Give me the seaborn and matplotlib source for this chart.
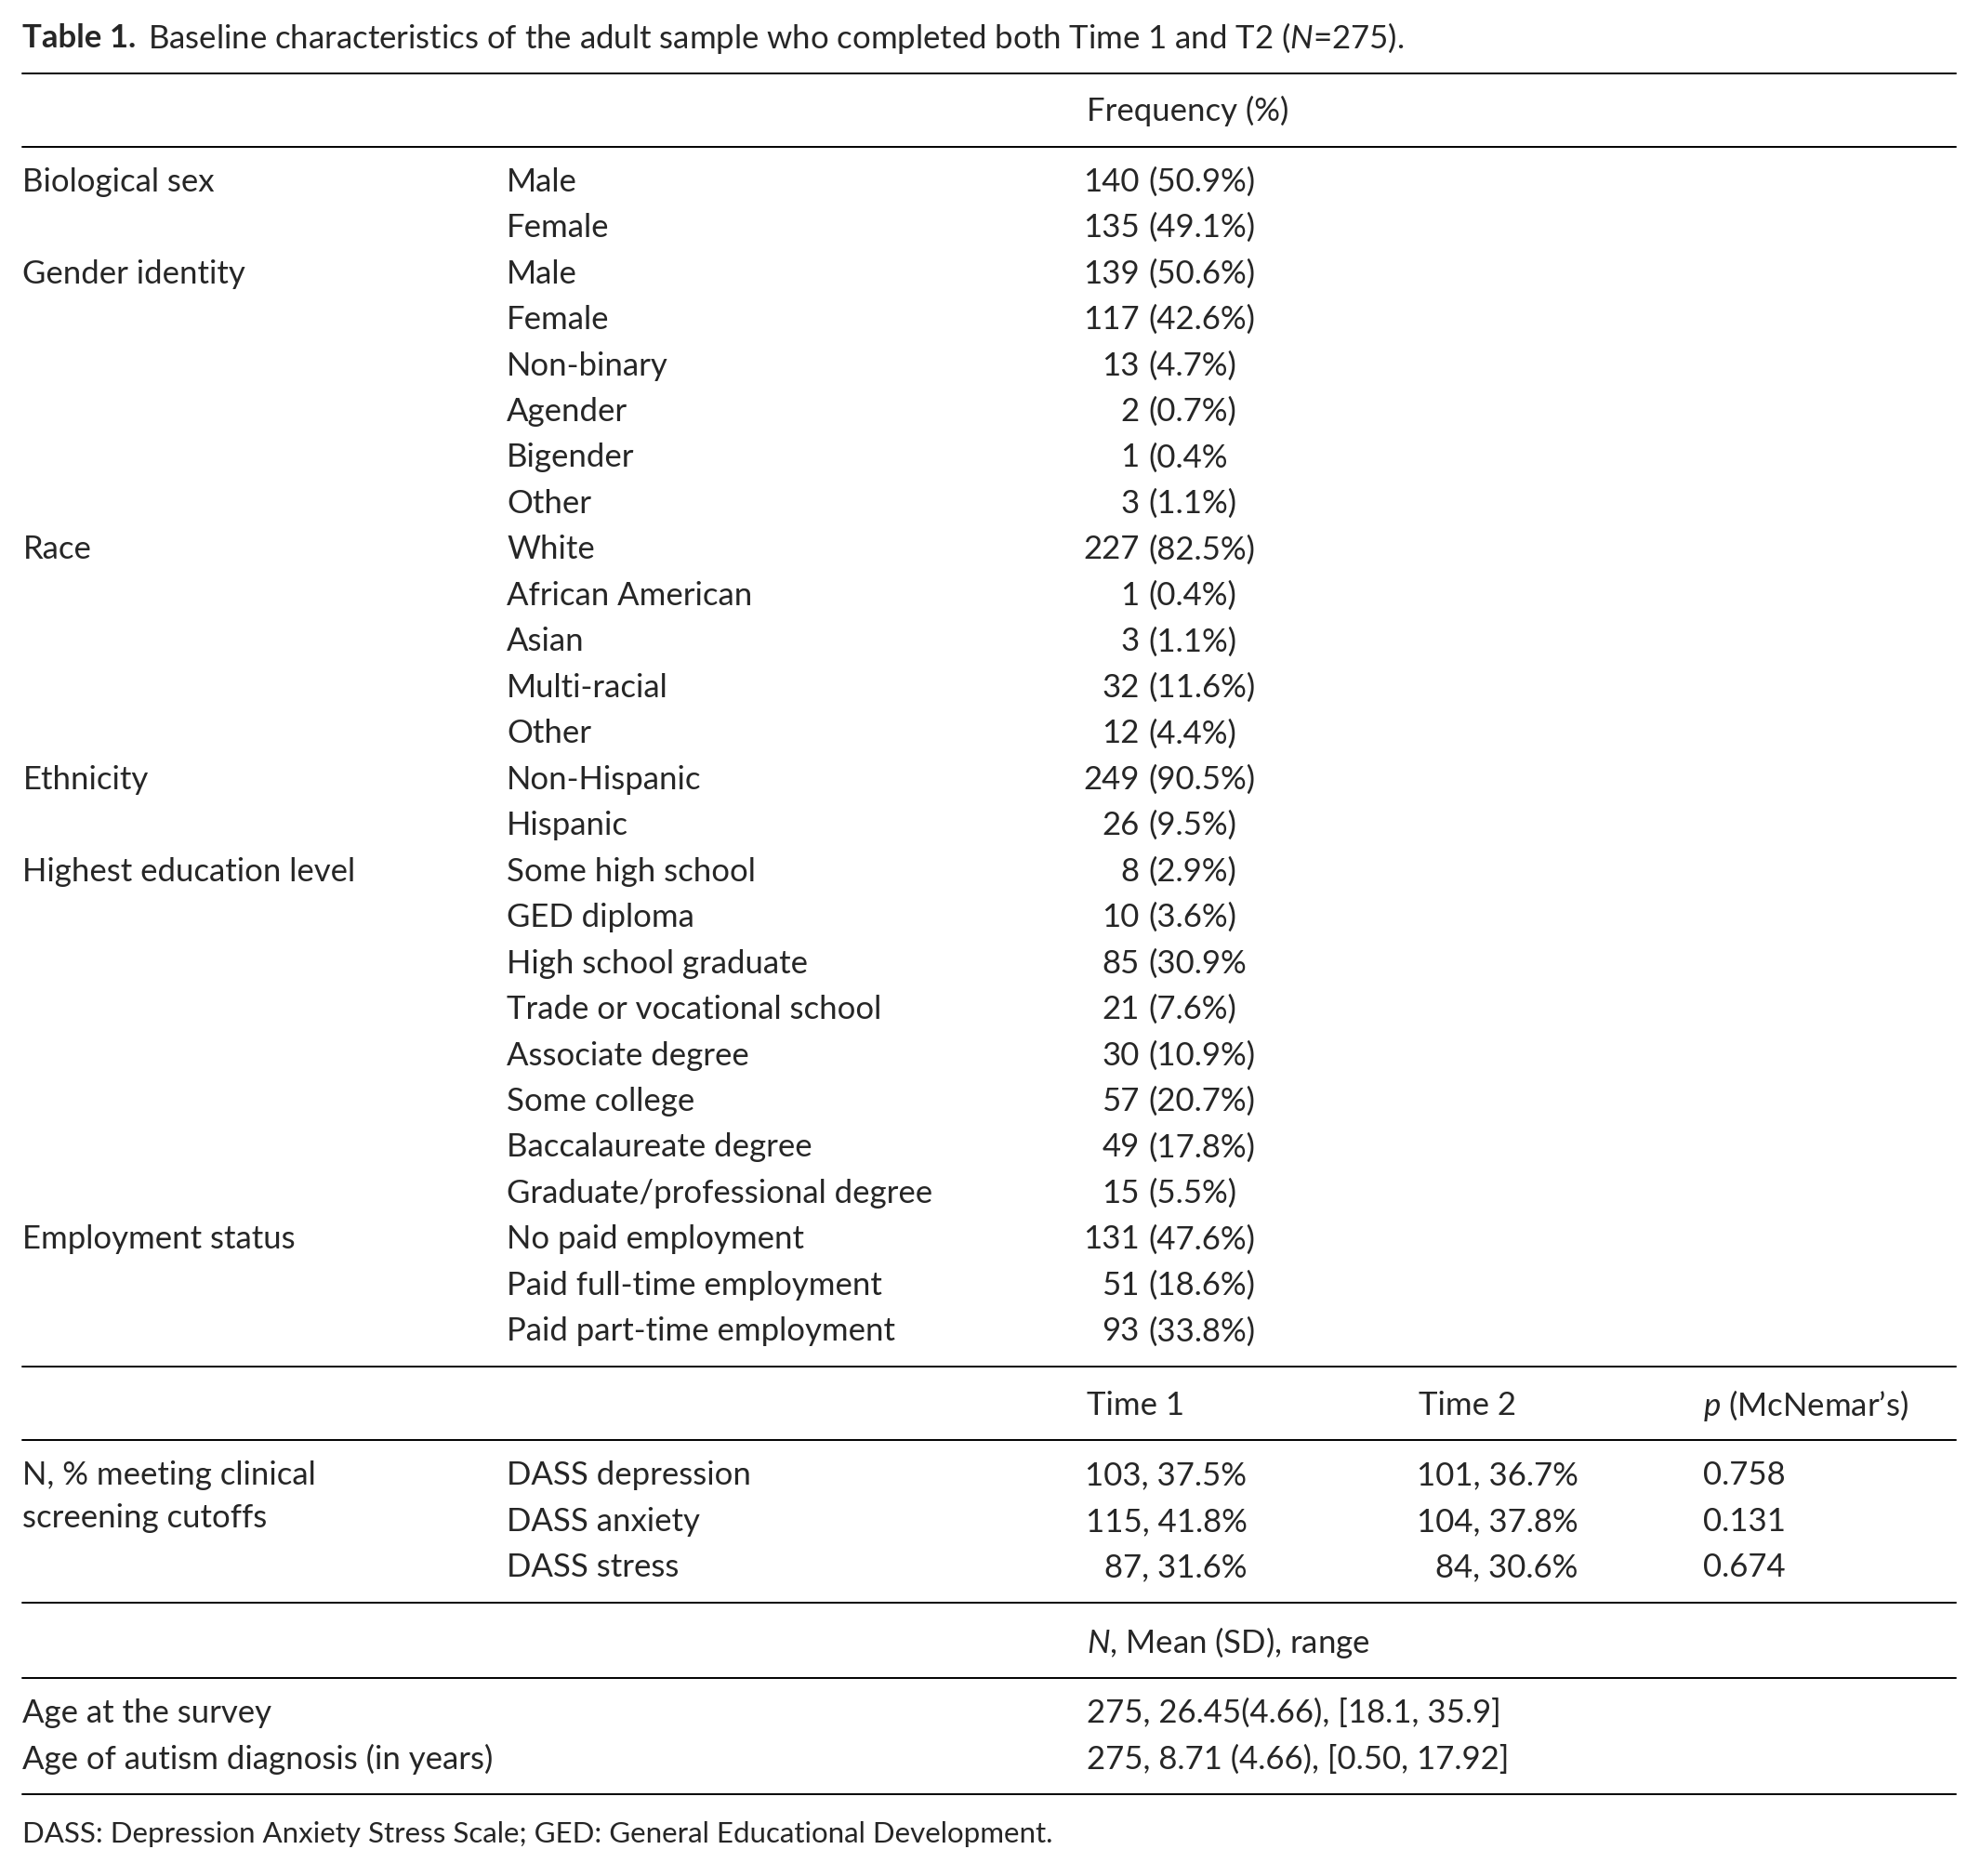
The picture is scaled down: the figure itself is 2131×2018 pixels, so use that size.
import matplotlib
matplotlib.use("Agg")
import matplotlib.pyplot as plt
import seaborn as sns

# ---- data ----
groups = ["Biological sex", "", "Gender identity", "", "", "", "", "",
          "Race", "", "", "", "", "Ethnicity", "",
          "Highest education level", "", "", "", "", "", "", "",
          "Employment status", "", ""]
categories = ["Male", "Female", "Male", "Female", "Non-binary", "Agender", "Bigender", "Other",
              "White", "African American", "Asian", "Multi-racial", "Other",
              "Non-Hispanic", "Hispanic",
              "Some high school", "GED diploma", "High school graduate",
              "Trade or vocational school", "Associate degree", "Some college",
              "Baccalaureate degree", "Graduate/professional degree",
              "No paid employment", "Paid full-time employment", "Paid part-time employment"]
counts = ["140", "135", "139", "117", "13", "2", "1", "3", "227", "1", "3", "32", "12",
          "249", "26", "8", "10", "85", "21", "30", "57", "49", "15", "131", "51", "93"]
pcts = ["(50.9%)", "(49.1%)", "(50.6%)", "(42.6%)", "(4.7%)", "(0.7%)", "(0.4%", "(1.1%)",
        "(82.5%)", "(0.4%)", "(1.1%)", "(11.6%)", "(4.4%)", "(90.5%)", "(9.5%)",
        "(2.9%)", "(3.6%)", "(30.9%", "(7.6%)", "(10.9%)", "(20.7%)", "(17.8%)", "(5.5%)",
        "(47.6%)", "(18.6%)", "(33.8%)"]
dass_scales = ["DASS depression", "DASS anxiety", "DASS stress"]
time1 = ["103, 37.5%", "115, 41.8%", "87, 31.6%"]
time2 = ["101, 36.7%", "104, 37.8%", "84, 30.6%"]
p_mcnemar = ["0.758", "0.131", "0.674"]
age_labels = ["Age at the survey", "Age of autism diagnosis (in years)"]
age_stats = ["275, 26.45(4.66), [18.1, 35.9]", "275, 8.71 (4.66), [0.50, 17.92]"]

sns.set_theme(style="white")
plt.rcParams["font.family"] = ["Lato", "DejaVu Sans"]
plt.rcParams["mathtext.fontset"] = "custom"
plt.rcParams["mathtext.it"] = "Lato:italic"
plt.rcParams["mathtext.rm"] = "Lato"

W, H = 1568, 1485
fig = plt.figure(figsize=(21.31, 20.18), dpi=100)
ax = fig.add_axes([0, 0, 1, 1])
ax.set_xlim(0, W)
ax.set_ylim(H, 0)
ax.axis("off")
fs = 25

def t(x, y, s, **kw):
    kw.setdefault("fontsize", fs)
    return ax.text(x, y, s, va="center", **kw)

def hline(y, lw=1.4):
    ax.plot([18, 1548], [y, y], color="black", lw=lw)

title_b = t(18, 30, "Table 1.", fontweight="bold")
fig.canvas.draw()
bb = title_b.get_window_extent().transformed(ax.transData.inverted())
t(bb.x1 + 9, 30, r"Baseline characteristics of the adult sample who completed both Time 1 and T2 ($\mathit{N}$=275).")

hline(58)
t(860, 88, "Frequency (%)")
hline(116)
y0, dy = 144, 36.4
for i, (g, c, n, p) in enumerate(zip(groups, categories, counts, pcts)):
    y = y0 + i * dy
    if g:
        t(18, y, g)
    t(401, y, c)
    t(902, y, n, ha="right")
    t(909, y, p)
hline(1082)
t(860, 1113, "Time 1")
t(1123, 1113, "Time 2")
t(1348, 1113, r"$\mathit{p}$ (McNemar’s)")
hline(1140)
t(18, 1168, "N, % meeting clinical")
t(18, 1202, "screening cutoffs")
for i in range(3):
    y = 1168 + i * 36.5
    t(401, y, dass_scales[i])
    t(987, y, time1[i], ha="right")
    t(1249, y, time2[i], ha="right")
    t(1348, y, p_mcnemar[i])
hline(1269)
t(860, 1300, r"$\mathit{N}$, Mean (SD), range")
hline(1328)
for i in range(2):
    y = 1356 + i * 36.5
    t(18, y, age_labels[i])
    t(860, y, age_stats[i])
hline(1420)
t(18, 1452, "DASS: Depression Anxiety Stress Scale; GED: General Educational Development.", fontsize=22.5)

fig.savefig("out.png", dpi=100, facecolor="white")
